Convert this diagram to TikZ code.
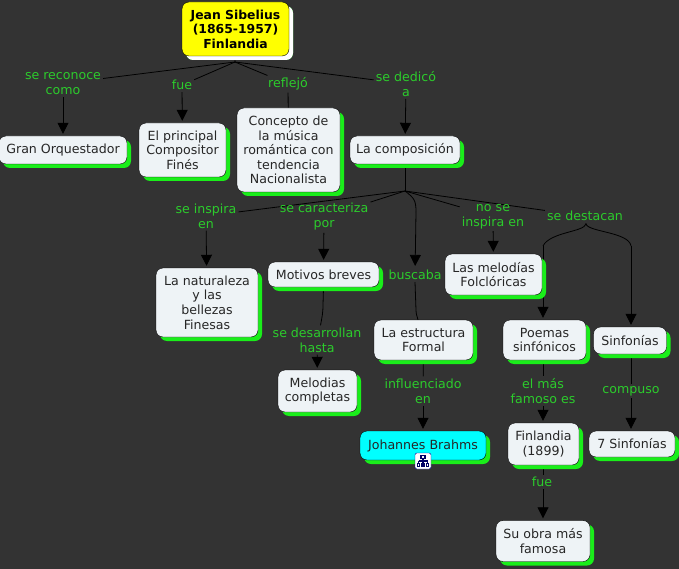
\documentclass[tikz,border=0pt]{standalone}
\usepackage{fontspec}
\setmainfont{DejaVu Sans}
\usetikzlibrary{arrows.meta,backgrounds,shadows}
\definecolor{canvasgray}{RGB}{51,51,51}
\definecolor{linkgreen}{RGB}{44,204,44}
\definecolor{shadowgreen}{RGB}{26,238,26}
\definecolor{boxfill}{RGB}{238,243,246}
\definecolor{brightcyan}{RGB}{0,255,255}
\definecolor{brightyellow}{RGB}{255,255,0}
\tikzset{
    concept/.style={draw=black,fill=boxfill,rounded corners=7pt,inner sep=0pt,align=center,
        font=\fontsize{12.6}{14.6}\selectfont,text=black!85,
        general shadow={fill=shadowgreen,shadow xshift=4pt,shadow yshift=-4pt}},
    rootbox/.style={concept,fill=brightyellow,text=black,font=\fontsize{12.4}{14.6}\selectfont\bfseries,
        general shadow={fill=white,shadow xshift=4pt,shadow yshift=-4pt}},
    linkword/.style={text=linkgreen,align=center,inner sep=2pt,
        font=\fontsize{12.6}{15}\selectfont},
    arrowline/.style={-{Triangle[width=11pt,length=11pt]},thick,shorten >=2pt},
    plainline/.style={thick},
}
\begin{document}
\begin{tikzpicture}[x=1pt,y=-1pt]
\useasboundingbox (0,0) rectangle (679,569);

% concepts
\node[rootbox,minimum width=107pt,minimum height=54pt] (sibelius) at (235.5,29) {Jean Sibelius\\(1865-1957)\\Finlandia};
\node[concept,minimum width=128pt,minimum height=28pt] (gran) at (63,150) {Gran Orquestador};
\node[concept,minimum width=87pt,minimum height=54pt] (principal) at (182.5,150) {El principal\\Compositor\\Finés};
\node[concept,minimum width=103pt,minimum height=84pt] (conceptomus) at (288.5,150) {Concepto de\\la música\\romántica con\\tendencia\\Nacionalista};
\node[concept,minimum width=110pt,minimum height=28pt] (composicion) at (405,150) {La composición};
\node[concept,minimum width=102pt,minimum height=69pt] (naturaleza) at (207,302.5) {La naturaleza\\y las\\bellezas\\Finesas};
\node[concept,minimum width=111pt,minimum height=25pt] (motivos) at (323.5,274.5) {Motivos breves};
\node[concept,minimum width=79pt,minimum height=42pt] (melodias) at (317.5,391) {Melodias\\completas};
\node[concept,minimum width=99pt,minimum height=40pt] (estructura) at (423.5,340) {La estructura\\Formal};
\node[concept,minimum width=97pt,minimum height=41pt] (folcloricas) at (493.5,274.5) {Las melodías\\Folclóricas};
\node[concept,minimum width=83pt,minimum height=40pt] (poemas) at (544.5,340) {Poemas\\sinfónicos};
\node[concept,minimum width=73pt,minimum height=27pt] (sinfonias) at (630,340.5) {Sinfonías};
\node[concept,minimum width=71pt,minimum height=42pt] (finlandia) at (543.5,444) {Finlandia\\(1899)};
\node[concept,minimum width=86pt,minimum height=26pt] (siete) at (632,444) {7 Sinfonías};
\node[concept,minimum width=94pt,minimum height=41pt] (suobra) at (543,541) {Su obra más\\famosa};
\node[concept,fill=brightcyan,minimum width=126pt,minimum height=29pt] (brahms) at (423,445.5) {Johannes Brahms};

% linking words
\node[linkword] (reconoce) at (63,83.5) {se reconoce\\como};
\node[linkword] (fue) at (182,85) {fue};
\node[linkword] (reflejo) at (288,84) {reflejó};
\node[linkword] (dedico) at (406,84) {se dedicó\\a};
\node[linkword] (inspira) at (206,216) {se inspira\\en};
\node[linkword] (caracteriza) at (324,217) {se caracteriza\\por};
\node[linkword] (buscaba) at (415,275) {buscaba};
\node[linkword] (noinspira) at (493,216.5) {no se\\inspira en};
\node[linkword] (destacan) at (585,216) {se destacan};
\node[linkword] (desarrollan) at (317,340) {se desarrollan\\hasta};
\node[linkword] (influenciado) at (423,391) {influenciado\\en};
\node[linkword] (famoso) at (543,391) {el más\\famoso es};
\node[linkword] (compuso) at (631,391) {compuso};
\node[linkword] (fueobra) at (542,482) {fue};

\coordinate (rootjoin) at (235,62);
\coordinate (compjoin) at (405,191);
\coordinate (buscabend) at (416,212);
\coordinate (destjoin) at (586,224);
\coordinate (leftdrop) at (543,246);
\coordinate (rightdrop) at (631,246);

\begin{scope}[on background layer]
\fill[canvasgray] (0,0) rectangle (679,569);

\draw[plainline] (sibelius) -- (rootjoin);
\draw[plainline] (rootjoin) -- (reconoce);
\draw[plainline] (rootjoin) -- (fue);
\draw[plainline] (rootjoin) -- (reflejo);
\draw[plainline] (rootjoin) -- (dedico);
\draw[arrowline] (reconoce) -- (gran);
\draw[arrowline] (fue) -- (principal);
\draw[plainline] (reflejo) -- (conceptomus);
\draw[arrowline] (dedico) -- (composicion);

\draw[plainline] (composicion) -- (compjoin);
\draw[plainline] (compjoin) -- (inspira);
\draw[plainline] (compjoin) -- (caracteriza);
\draw[plainline] (compjoin) -- (noinspira);
\draw[plainline] (compjoin) -- (destacan);
\draw[plainline] (compjoin) .. controls (414,198) and (416,200) .. (buscabend);
\draw[arrowline] (buscabend) -- (buscaba);
\draw[arrowline] (inspira) -- (naturaleza);
\draw[arrowline] (caracteriza) -- (motivos);
\draw[arrowline] (noinspira) -- (folcloricas);

\draw[plainline] (buscaba.south) -- (416,310) .. controls (416,314) and (417,316) .. (estructura.north -| 418,0);
\draw[plainline] (motivos.south) -- (323,305) .. controls (323,313) and (322,317) .. (desarrollan.north -| 320.5,0);
\draw[arrowline] (desarrollan) -- (melodias);

\draw[plainline] (destacan) -- (destjoin);
\draw[plainline] (destjoin) .. controls (584,232) and (550,232) .. (leftdrop);
\draw[plainline] (destjoin) .. controls (588,232) and (629,232) .. (rightdrop);
\draw[arrowline] (leftdrop) -- (poemas.north -| leftdrop);
\draw[arrowline] (rightdrop) -- (sinfonias.north -| rightdrop);

\draw[plainline] (estructura) -- (influenciado);
\draw[arrowline] (influenciado) -- (brahms);
\draw[plainline] (poemas.south -| famoso) -- (famoso);
\draw[arrowline] (famoso) -- (finlandia.north -| famoso);
\draw[plainline] (sinfonias.south -| compuso) -- (compuso);
\draw[arrowline] (compuso) -- (siete.north -| compuso);
\draw[plainline] (finlandia.south -| 543,0) -- (fueobra.north -| 543,0);
\draw[arrowline] (fueobra.south -| 543,0) -- (suobra.north -| 543,0);
\end{scope}

% resource icon
\fill[white,draw=blue!60!black,rounded corners=2pt] (415,453) rectangle (431,469);
\draw[blue!40!black,line width=1.1pt] (421,455.5) rectangle (425,458.5)
    (423,458.5) -- (423,461) (418.5,461) -- (427.5,461)
    (418.5,461) -- (418.5,463) (427.5,461) -- (427.5,463) (423,461) -- (423,463)
    (417.5,463.5) rectangle (419.5,466.5) (422,463.5) rectangle (424,466.5) (426.5,463.5) rectangle (428.5,466.5);
\end{tikzpicture}
\end{document}
